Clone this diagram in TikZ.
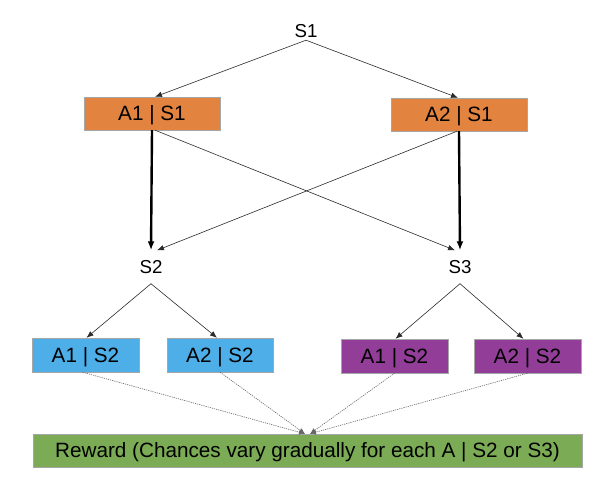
\documentclass[tikz,border=0pt]{standalone}
\usepackage{fontspec}
\setmainfont{Liberation Sans}
\usetikzlibrary{arrows.meta}
\definecolor{cOrange}{HTML}{E2843F}
\definecolor{cBlue}{HTML}{4DAEE8}
\definecolor{cPurple}{HTML}{923E98}
\definecolor{cGreen}{HTML}{7BAB55}
\definecolor{cLine}{HTML}{2A2A2A}
\tikzset{
  lbl/.style={font=\fontsize{18.7}{21}\selectfont, inner xsep=2pt, text height=13.4pt, text depth=0pt},
  box/.style={font=\fontsize{20.7}{23}\selectfont, draw=gray!70, line width=0.4pt, text height=14.8pt, text depth=0pt, inner sep=0pt},
  thin/.style={draw=cLine, line width=0.6pt, -{Latex[length=7pt,width=5.5pt]}},
  thick/.style={draw=black, line width=2.4pt, -{Latex[length=9pt,width=7pt]}},
  dot/.style={draw=gray!80!black, line width=0.6pt, dash pattern=on 1.2pt off 1pt, -{Latex[length=6pt,width=5pt]}}
}
\begin{document}
\begin{tikzpicture}[x=1pt,y=-1pt]
\useasboundingbox (0,0) rectangle (608,496);
% level nodes
\node[lbl, inner ysep=2.3pt] (S1) at (306,31) {S1};
\node[box, fill=cOrange, minimum width=136pt, minimum height=33pt] (A1S1) at (152,113.5) {A1 | S1};
\node[box, fill=cOrange, minimum width=136pt, minimum height=33pt] (A2S1) at (459,114.5) {A2 | S1};
\node[lbl, inner ysep=9.8pt] (S2) at (151,267) {S2};
\node[lbl, inner ysep=9.8pt] (S3) at (460,267) {S3};
\node[box, fill=cBlue, minimum width=107pt, minimum height=34pt] (B1) at (85.5,355) {A1 | S2};
\node[box, fill=cBlue, minimum width=106pt, minimum height=34pt] (B2) at (220,355) {A2 | S2};
\node[box, fill=cPurple, minimum width=107pt, minimum height=34pt] (P1) at (394.5,356) {A1 | S2};
\node[box, fill=cPurple, minimum width=107pt, minimum height=34pt] (P2) at (527.5,356) {A2 | S2};
\node[box, fill=cGreen, minimum width=549pt, minimum height=33pt] (R) at (307.5,450.5) {Reward (Chances vary gradually for each A | S2 or S3)};
% connectors
\draw[thin] (S1.south) -- ([xshift=3pt]A1S1.north);
\draw[thin] (S1.south) -- ([xshift=-1pt]A2S1.north);
\draw[thick] (A1S1.south) -- (S2.north);
\draw[thick] (A2S1.south) -- (S3.north);
\draw[thin] ([xshift=3pt]A1S1.south) -- ([xshift=-5pt]S3.north);
\draw[thin] ([xshift=-2pt]A2S1.south) -- ([xshift=6pt]S2.north);
\draw[thin] (S2.south) -- ([xshift=1pt]B1.north);
\draw[thin] (S2.south) -- ([xshift=-3pt]B2.north);
\draw[thin] (S3.south) -- ([xshift=1pt]P1.north);
\draw[thin] (S3.south) -- ([xshift=-4pt]P2.north);
\draw[dot] ([xshift=-3pt]B1.south) -- ([xshift=-2.5pt]R.north);
\draw[dot] (B2.south) -- ([xshift=-2.5pt]R.north);
\draw[dot] (P1.south) -- ([xshift=2.5pt]R.north);
\draw[dot] (P2.south) -- ([xshift=2.5pt]R.north);
\end{tikzpicture}
\end{document}
